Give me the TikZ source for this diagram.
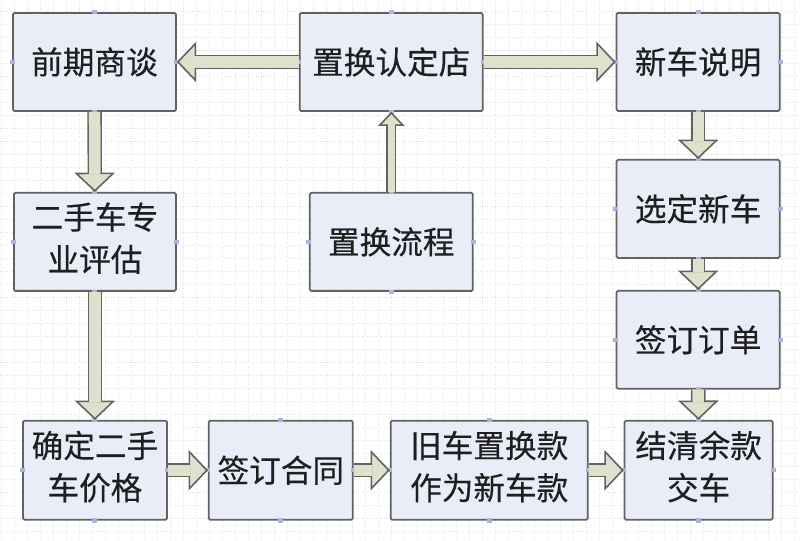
\documentclass[tikz,border=0pt]{standalone}
\usepackage{fontspec}
\setmainfont{Noto Sans CJK SC}[FakeBold=0.35]
\usetikzlibrary{arrows.meta}
\definecolor{boxfill}{HTML}{E9EDF8}
\definecolor{boxline}{HTML}{626262}
\definecolor{arrowfill}{HTML}{DEE2CC}
\definecolor{gridline}{HTML}{E2E2E2}
\definecolor{handlemark}{HTML}{B4B0DC}
\tikzset{
	stepbox/.style={draw=boxline, fill=boxfill, line width=1pt, rounded corners=0.8pt, inner sep=0pt,
		font=\fontsize{18}{24}\selectfont, text=black!88},
	bigarrow/.style={double=arrowfill, double distance=6.4pt, draw=boxline, line width=0.9pt,
		-{Triangle[length=11pt, width=23pt, fill=arrowfill]},
		postaction={draw=arrowfill, line width=6.4pt, -, shorten >=10pt}},
	thinarrow/.style={double=arrowfill, double distance=4pt, draw=boxline, line width=0.9pt,
		-{Triangle[length=8pt, width=15pt, fill=arrowfill]},
		postaction={draw=arrowfill, line width=4pt, -, shorten >=7pt}},
	handlemark/.style={fill=handlemark, draw=none, minimum width=0.1cm, minimum height=0.09cm, inner sep=0pt}
}
\def\stepnode(#1)(#2,#3,#4,#5)#6{\node[stepbox, minimum width={(#4-#2)*0.02cm}, minimum height={(#5-#3)*0.02cm}] (#1) at ({(#2+#4)*0.01}, {10.8-(#3+#5)*0.01}) {#6};}
\def\twolines#1#2{\raisebox{1.4pt}{\begin{tabular}{@{}c@{}}#1\\#2\end{tabular}}}
\begin{document}
\begin{tikzpicture}
		%%%%% GRID %%%%%
		\useasboundingbox (0, 0) rectangle (16, 10.8);
		\draw[shift={(0.02, 0.18)}, gridline, densely dotted, line width=0.4pt, step=0.26] (-0.02, -0.18) grid (15.98, 10.62);
		
		%%%%% BOXES %%%%%
		\stepnode(talk)(13,13,176,111){前期商谈}
		\stepnode(shop)(300,13,483,111){置换认定店}
		\stepnode(intro)(617,13,780,111){新车说明}
		\stepnode(assess)(14,193,176,291){\twolines{二手车专}{业评估}}
		\stepnode(flow)(310,193,473,291){置换流程}
		\stepnode(choose)(617,160,780,258){选定新车}
		\stepnode(order)(617,291,780,389){签订订单}
		\stepnode(price)(23,421,167,520){\twolines{确定二手}{车价格}}
		\stepnode(contract)(209,421,353,520){签订合同}
		\stepnode(trade)(391,421,588,520){\twolines{旧车置换款}{作为新车款}}
		\stepnode(pay)(625,421,773,520){\twolines{结清余款}{交车}}
		
		%%%%% HANDLES %%%%%
		\foreach \stepname in {talk,shop,intro,assess,flow,choose,order,price,contract,trade,pay}
			\foreach \side in {north,south,east,west}
				\path (\stepname.\side) node[handlemark] {};
		
		%%%%% ARROWS %%%%%
		\draw[bigarrow] (shop) -- (talk);
		\draw[bigarrow] (shop) -- (intro);
		\draw[bigarrow] (talk) -- (assess);
		\draw[bigarrow] (assess.south) -- (assess.south |- price.north);
		\draw[thinarrow] (flow) -- (shop.south -| flow);
		\draw[bigarrow] (intro) -- (choose);
		\draw[bigarrow] (choose) -- (order);
		\draw[bigarrow] (order) -- (pay);
		\draw[bigarrow] (price) -- (contract);
		\draw[bigarrow] (contract) -- (trade);
		\draw[bigarrow] (trade) -- (pay);
	\end{tikzpicture}
\end{document}
